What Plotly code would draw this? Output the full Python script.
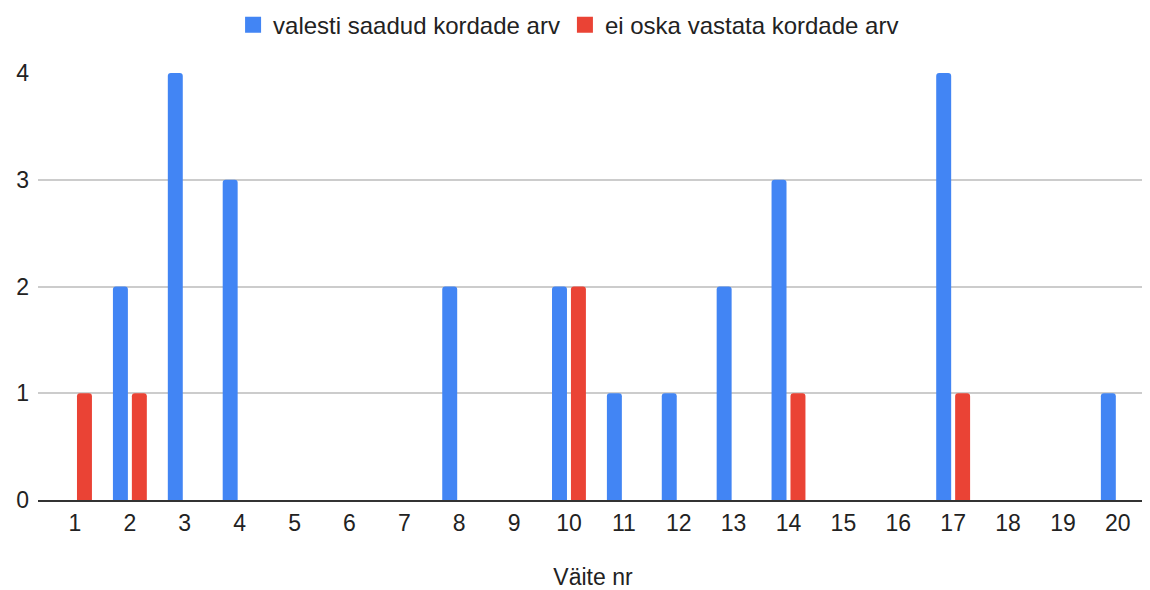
import plotly.graph_objects as go

categories = list(range(1, 21))
tick_labels = [str(c) for c in categories]
valesti = [0, 2, 4, 3, 0, 0, 0, 2, 0, 2, 1, 1, 2, 3, 0, 0, 4, 0, 0, 1]
ei_oska = [1, 1, 0, 0, 0, 0, 0, 0, 0, 2, 0, 0, 0, 1, 0, 0, 1, 0, 0, 0]
series_names = ["valesti saadud kordade arv", "ei oska vastata kordade arv"]
series_colors = ["#4285F4", "#EA4335"]

FONT = "Liberation Sans, Arial, sans-serif"

fig = go.Figure()
for vals, name, color in zip([valesti, ei_oska], series_names, series_colors):
    fig.add_trace(go.Bar(x=categories, y=vals, name=name, showlegend=False,
                         marker=dict(color=color, cornerradius=3, line=dict(width=0))))
# legend entries with larger square swatches
for name, color in zip(series_names, series_colors):
    fig.add_trace(go.Scatter(x=[None], y=[None], mode="markers", name=name,
                             marker=dict(symbol="square", size=16, color=color)))

# page body has an 8px margin; size the figure so it fills the 1150x590 window
fig.update_layout(
    width=1142, height=582,
    margin=dict(l=30, r=2, t=65, b=90, autoexpand=False),
    paper_bgcolor="white", plot_bgcolor="white",
    barmode="group", bargap=0.31, bargroupgap=0.21,
    font=dict(family=FONT, color="#222222", size=23),
    showlegend=True,
    legend=dict(orientation="h", x=0.478, xanchor="center", y=1.112, yanchor="middle",
                font=dict(size=24, color="#222222"), itemsizing="trace",
                traceorder="normal"),
    xaxis=dict(
        type="linear", range=[0.326, 20.55],
        tickmode="array", tickvals=categories, ticktext=tick_labels,
        showgrid=False, zeroline=False,
        showline=True, linecolor="#333333", linewidth=2,
        ticks="", ticklabelstandoff=1,
        tickfont=dict(size=23, color="#222222"),
        title=dict(text="Väite nr", font=dict(size=23, color="#222222"), standoff=34),
    ),
    yaxis=dict(
        range=[0, 4], tickvals=[0, 1, 2, 3, 4],
        showgrid=True, gridcolor="#cccccc", gridwidth=1.5,
        zeroline=False, showline=False, ticks="",
        ticklabelstandoff=8,
        tickfont=dict(size=23, color="#222222"),
    ),
)

fig.write_html("out.html")
